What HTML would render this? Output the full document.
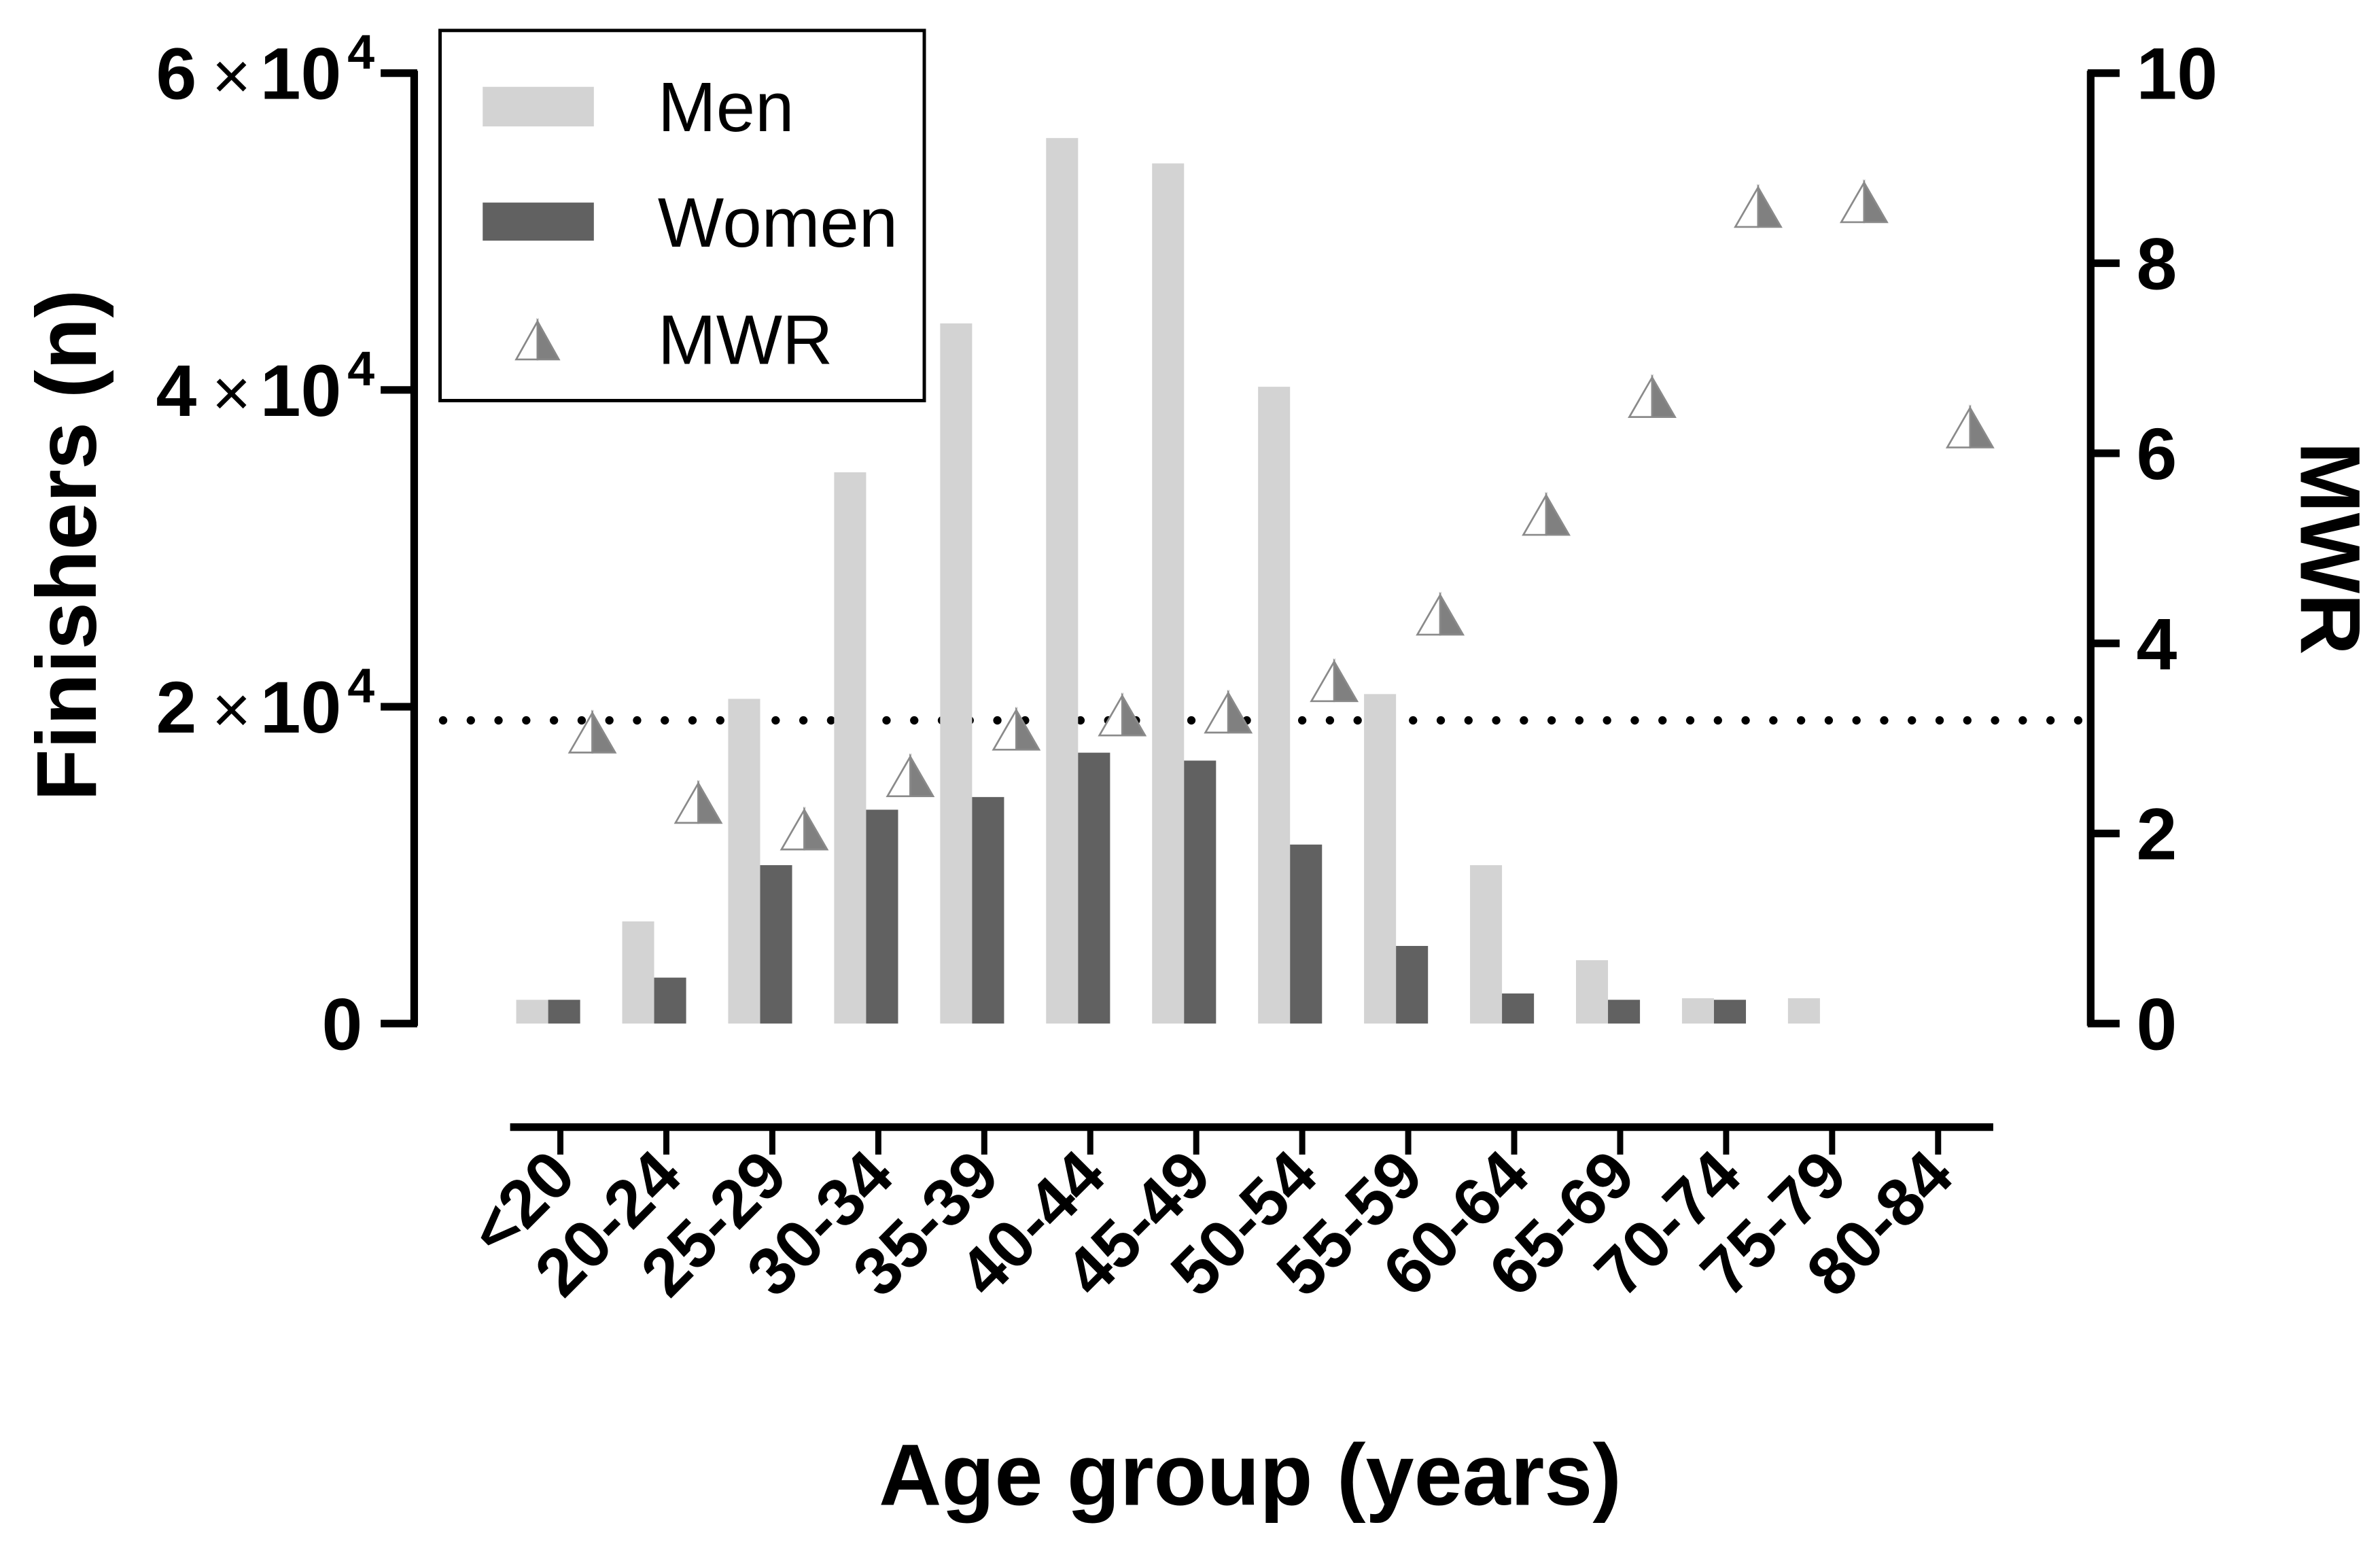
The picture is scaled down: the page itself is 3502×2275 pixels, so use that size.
<!DOCTYPE html>
<html><head><meta charset="utf-8">
<style>html,body{margin:0;padding:0;background:#fff}svg{display:block}text{font-family:"Liberation Sans",Arial,sans-serif}</style>
</head><body>
<svg id="chart" width="3502" height="2275" viewBox="0 0 1563 1015" preserveAspectRatio="none" xmlns="http://www.w3.org/2000/svg">
<g id="axes"></g>
<g id="bars"></g>
<g id="marks"></g>
<g>
  <rect x="289" y="20" width="318" height="243" fill="#fff" stroke="#000" stroke-width="2.2"/>
  <rect x="317" y="57" width="73" height="26" fill="#d3d3d3"/>
  <text x="432" y="86" font-size="46">Men</text>
  <rect x="317" y="133" width="73" height="25" fill="#616161"/>
  <text x="432" y="162" font-size="46">Women</text>
  <g>
    <polygon points="353,211 353,236 339,236" fill="#fff" stroke="#888" stroke-width="1.2"/>
    <polygon points="353,211 367,236 353,236" fill="#808080" stroke="#888" stroke-width="1.2"/>
  </g>
  <text x="432" y="239" font-size="46">MWR</text>
</g>
</svg>
<script>
const categories = ["<20","20-24","25-29","30-34","35-39","40-44","45-49","50-54","55-59","60-64","65-69","70-74","75-79","80-84"];
const menValues = [1500,6450,20500,34800,44200,55900,54300,40200,20800,10000,4000,1600,1600,0];
const womenValues = [1500,2900,10000,13500,14300,17100,16600,11300,4900,1900,1500,1500,0,0];
const mwrValues = [3.06,2.32,2.04,2.6,3.09,3.24,3.27,3.6,4.3,5.35,6.59,8.59,8.64,6.27];
const leftTicks = [0,20000,40000,60000];
const leftTickLabels = ["0","2","4","6"];
const rightTicks = [0,2,4,6,8,10];
const referenceMWR = 3.19;

const NS = "http://www.w3.org/2000/svg";
function mk(tag, attrs, parent, txt){const e=document.createElementNS(NS,tag);for(const k in attrs)e.setAttribute(k,attrs[k]);if(txt!==undefined)e.textContent=txt;parent.appendChild(e);return e;}
const yL = v => 672 - v/60000*624;
const yR = v => 672 - v/10*624;
const xC = i => 368 + i*69.6;

const axes = document.getElementById('axes');
let el = mk('line',{x1:272,y1:46.5,x2:272,y2:673.5,stroke:'#000','stroke-width':5},axes);


leftTicks.forEach((t,i)=>{
  const y=yL(t);
  mk('line',{x1:250,y1:y,x2:274,y2:y,stroke:'#000','stroke-width':5},axes);
  let tx;
  if(t===0){ tx=mk('text',{x:238,y:y+17,'font-size':48,'font-weight':'bold','text-anchor':'end'},axes,'0'); }
  else {
    tx=mk('text',{x:246,y:y+17,'font-size':48,'font-weight':'bold','text-anchor':'end'},axes);
    mk('tspan',{},tx,leftTickLabels[i]);
    mk('tspan',{'font-weight':'normal','font-size':44,dx:10},tx,'\u00d7');
    mk('tspan',{dx:6},tx,'10');
    mk('tspan',{dy:-20,dx:4,'font-size':32},tx,'4');
  }
  
  
});
el = mk('line',{x1:1373,y1:46.5,x2:1373,y2:673.5,stroke:'#000','stroke-width':5},axes);


rightTicks.forEach(t=>{
  const y=yR(t);
  mk('line',{x1:1371,y1:y,x2:1392,y2:y,stroke:'#000','stroke-width':5},axes);
  const tx=mk('text',{x:1403,y:y+17,'font-size':48,'font-weight':'bold'},axes,String(t));
  
  
});
el = mk('line',{x1:335,y1:740,x2:1309,y2:740,stroke:'#000','stroke-width':5},axes);


categories.forEach((c,i)=>{
  const x=xC(i);
  mk('line',{x1:x,y1:738,x2:x,y2:758,stroke:'#000','stroke-width':4},axes);
  const tx=mk('text',{x:x+12,y:774,'font-size':44,'font-weight':'bold','text-anchor':'end',transform:`rotate(-45 ${x+12} 774)`},axes,c);
  
  
});
el = mk('text',{x:0,y:0,'font-size':56,'font-weight':'bold','text-anchor':'middle',transform:'translate(63 358) rotate(-90)'},axes,'Finishers (n)');


el = mk('text',{x:0,y:0,'font-size':56,'font-weight':'bold','text-anchor':'middle',transform:'translate(1511 360) rotate(90)'},axes,'MWR');


el = mk('text',{x:821,y:988,'font-size':57,'font-weight':'bold','text-anchor':'middle'},axes,'Age group (years)');


el = mk('line',{x1:291,y1:yR(referenceMWR),x2:1373,y2:yR(referenceMWR),stroke:'#000','stroke-width':5.5,'stroke-linecap':'round','stroke-dasharray':'0 18.2'},axes);



const bars = document.getElementById('bars');
categories.forEach((c,i)=>{
  const x=xC(i);
  if(menValues[i]>0){
    const b=mk('rect',{x:x-29,y:yL(menValues[i]),width:21,height:672-yL(menValues[i]),fill:'#d3d3d3'},bars);
    
    
  }
  if(womenValues[i]>0){
    const b=mk('rect',{x:x-8,y:yL(womenValues[i]),width:21,height:672-yL(womenValues[i]),fill:'#616161'},bars);
    
    
  }
});
const marks = document.getElementById('marks');
mwrValues.forEach((v,i)=>{
  const cx=xC(i)+21, cy=yR(v);
  const g=mk('g',{},marks);
  
  
  mk('polygon',{points:`${cx},${cy-13} ${cx},${cy+13} ${cx-15},${cy+13}`,fill:'#fff',stroke:'#8a8a8a','stroke-width':1.2},g);
  mk('polygon',{points:`${cx},${cy-13} ${cx+15},${cy+13} ${cx},${cy+13}`,fill:'#808080',stroke:'#8a8a8a','stroke-width':1.2},g);
});
</script>
</body></html>
